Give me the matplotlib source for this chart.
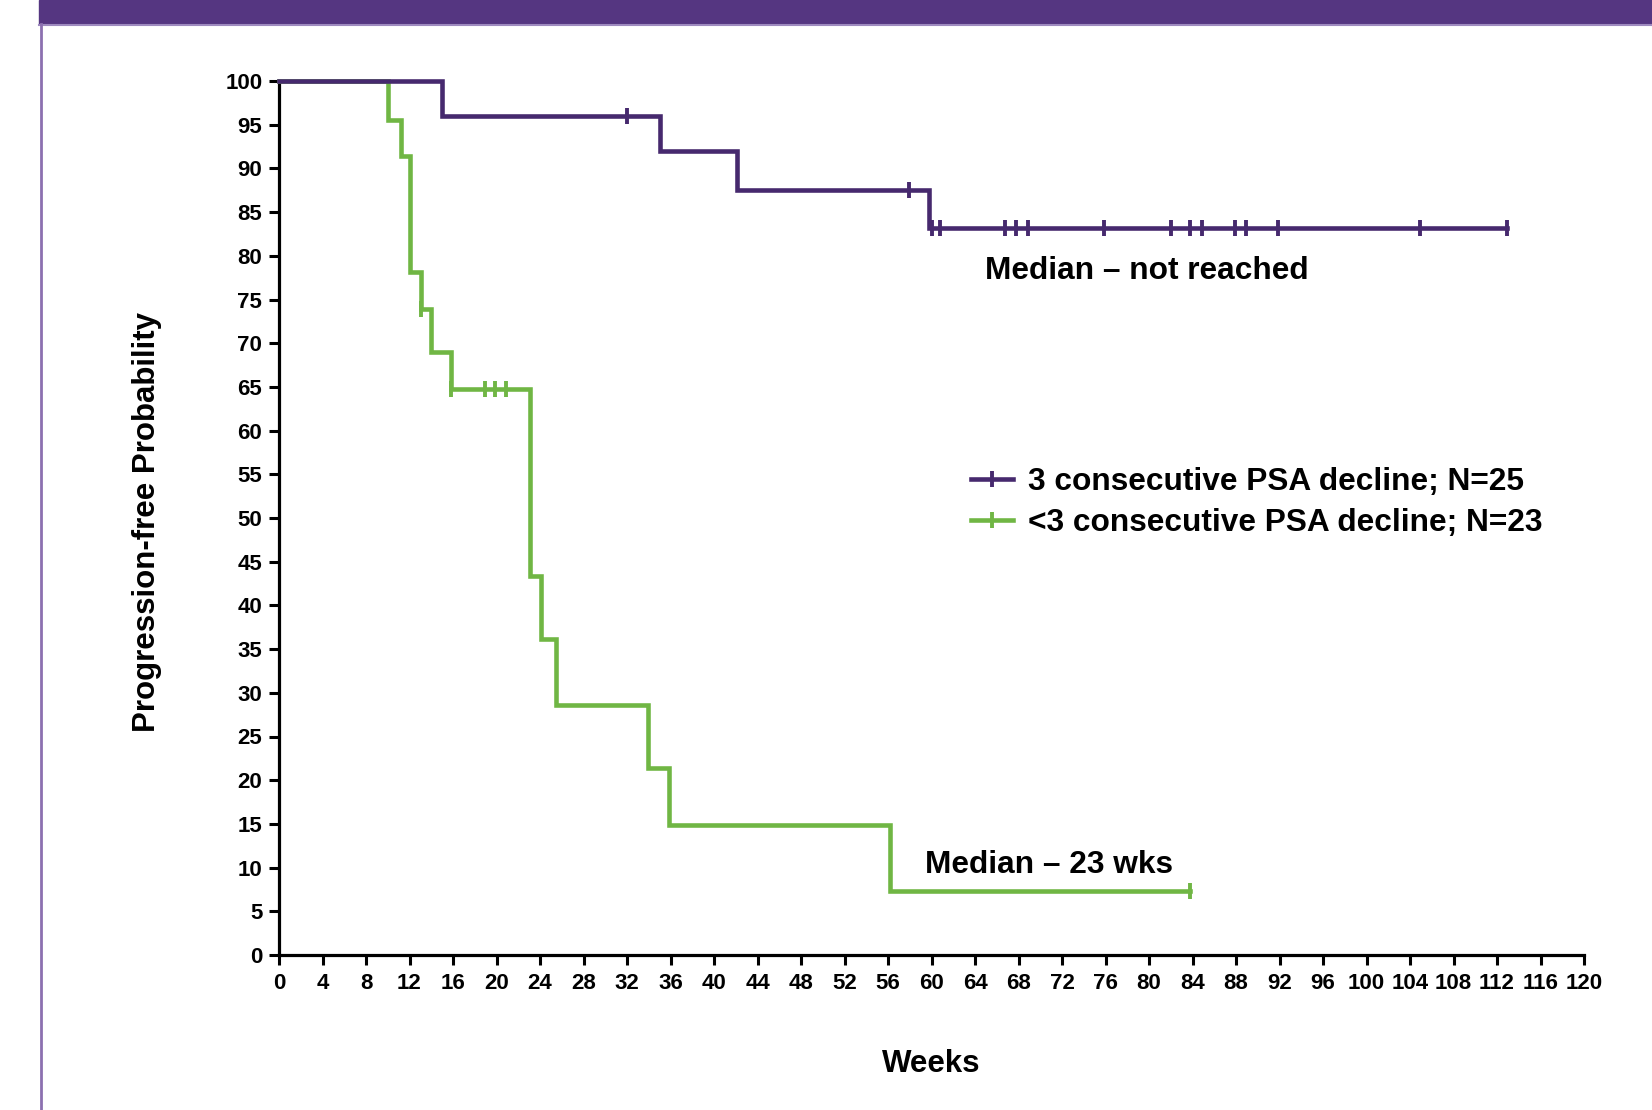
import numpy as np
import matplotlib
matplotlib.use("Agg")
import matplotlib.pyplot as plt
from matplotlib.lines import Line2D
from matplotlib.patches import Rectangle

plt.rcParams['font.family'] = ['Liberation Sans', 'DejaVu Sans']
plt.rcParams['font.weight'] = 'bold'

# step data (weeks, progression-free %)
good_times = [0, 15, 35, 42.1, 59.8, 112.9]
good_surv = [100, 96, 92, 87.5, 83.2, 83.2]
good_censor = [32, 57.9, 60, 60.8, 66.8, 67.8, 68.9, 75.9, 82, 83.8, 84.9,
               87.9, 88.9, 91.9, 104.9, 112.9]

poor_times = [0, 10, 11.2, 12, 13.1, 14, 15.8, 23.1, 24.1, 25.5, 33.9, 35.9, 56.2, 83.8]
poor_surv = [100, 95.5, 91.4, 78.2, 73.9, 69.0, 64.8, 43.4, 36.2, 28.6, 21.4, 14.9, 7.3, 7.3]
poor_censor = [13.1, 15.8, 18.9, 19.9, 20.9, 83.8]

labels = ['3 consecutive PSA decline; N=25', '<3 consecutive PSA decline; N=23']
x_ticks = list(range(0, 121, 4))
y_ticks = list(range(0, 101, 5))

purple = '#46296e'
green = '#70b644'


def level_at(times, surv, t):
    idx = np.searchsorted(times, t, side='right') - 1
    return np.array(surv)[idx]


def plot_curve(ax, times, surv, censor, color, z):
    ax.step(times, surv, where='post', color=color, lw=3.3, solid_joinstyle='miter',
            zorder=z, clip_on=False)
    ax.plot(censor, level_at(times, surv, censor), ls='none', marker='|', ms=12,
            mew=2.8, color=color, zorder=z + 0.5, clip_on=False)


fig = plt.figure(figsize=(16.52, 11.10), dpi=100)
ax = fig.add_axes([279 / 1652, 1 - 955 / 1110, 1305 / 1652, 874 / 1110])

plot_curve(ax, poor_times, poor_surv, poor_censor, green, 3)
plot_curve(ax, good_times, good_surv, good_censor, purple, 4)

ax.set_xlim(0, 120)
ax.set_ylim(0, 100)
ax.set_xticks(x_ticks)
ax.set_yticks(y_ticks)
ax.tick_params(labelsize=16, width=2.2, length=7)
ax.tick_params(axis='x', pad=6)
ax.tick_params(axis='y', pad=5)
for lab in ax.get_xticklabels() + ax.get_yticklabels():
    lab.set_fontweight('bold')
for side in ['top', 'right']:
    ax.spines[side].set_visible(False)
for side in ['left', 'bottom']:
    ax.spines[side].set_linewidth(2.3)

ax.set_xlabel('Weeks', fontsize=22.5, fontweight='bold')
ax.xaxis.set_label_coords(0.5, -0.107)
ax.set_ylabel('Progression-free Probability', fontsize=22.5, fontweight='bold')
ax.yaxis.set_label_coords(-0.0895, 0.495)

ax.text(64.9, 78.25, 'Median \u2013 not reached', fontsize=22.8, fontweight='bold',
        ha='left', va='center')
ax.text(59.4, 10.25, 'Median \u2013 23 wks', fontsize=22.8, fontweight='bold',
        ha='left', va='center')

handles = [Line2D([], [], color=purple, lw=3.3, marker='|', ms=12, mew=2.8),
           Line2D([], [], color=green, lw=3.3, marker='|', ms=12, mew=2.8)]
ax.legend(handles, labels, loc='center left', bbox_to_anchor=(0.530, 0.518),
          frameon=False, handlelength=1.35, handletextpad=0.45,
          labelspacing=0.34, borderpad=0, borderaxespad=0,
          prop={'weight': 'bold', 'size': 22.8})

# slide frame: header band and left border
fig.patches.append(Rectangle((39 / 1652, 1 - 24 / 1110), 1, 24 / 1110,
                             transform=fig.transFigure, color='#553681', zorder=0))
fig.lines.append(Line2D([39 / 1652, 1], [1 - 25 / 1110, 1 - 25 / 1110],
                        transform=fig.transFigure, color='#9e8abf', lw=1.5))
fig.lines.append(Line2D([41 / 1652, 41 / 1652], [0, 1 - 24 / 1110],
                        transform=fig.transFigure, color='#8c70b0', lw=2))

fig.savefig('out.png', dpi=100)
